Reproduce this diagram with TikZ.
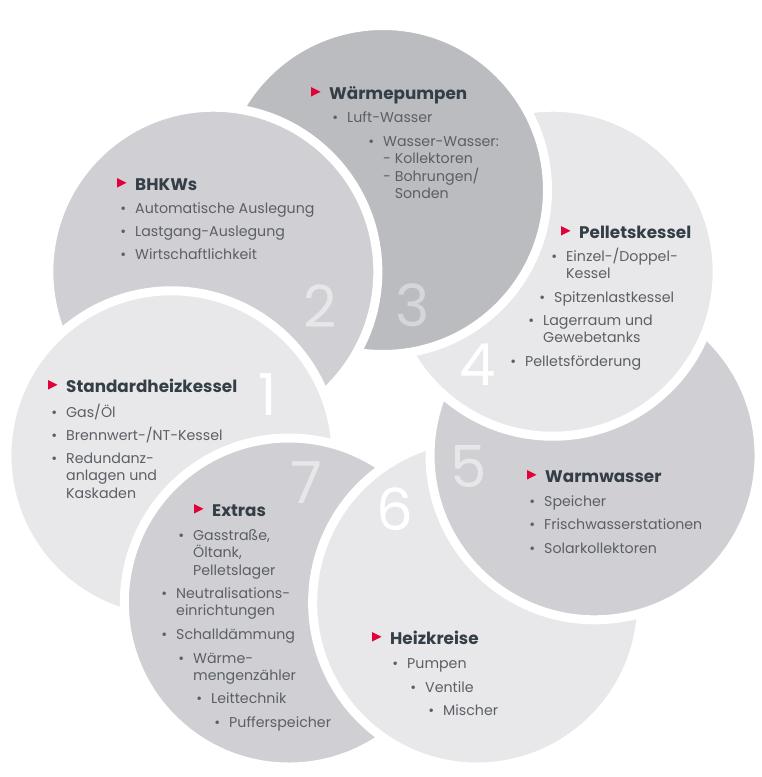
\documentclass[tikz,border=0pt]{standalone}
\usepackage{fontspec}
\setmainfont{Poppins}
\usetikzlibrary{calc}
\definecolor{discdark}{HTML}{BBBCC0}
\definecolor{discmid}{HTML}{D0D0D4}
\definecolor{disclight}{HTML}{E8E8EA}
\definecolor{headtext}{HTML}{343E47}
\definecolor{itemtext}{HTML}{5B5F66}
\definecolor{markred}{HTML}{E2003B}
\newcommand\bul{\llap{\textbullet\hspace{9pt}}}

\begin{document}
\begin{tikzpicture}[
  x=1pt, y=-1pt,
  disc/.style={draw=white, line width=9pt},
  head/.style={anchor=base west, inner sep=0pt, text=headtext,
               font=\fontsize{16.8}{20}\selectfont\bfseries},
  itm/.style={anchor=base west, inner sep=0pt, align=left, text=itemtext,
              font=\fontsize{14.2}{17.5}\selectfont},
  numeral/.style={anchor=base, inner sep=0pt, text=white,
                  font=\fontsize{58}{58}\selectfont},
  marker/.style={fill=markred}
]
  \useasboundingbox (0,0) rectangle (761,777);
  \coordinate (O) at (383,407);
  \foreach \ang/\col in {115.71/discmid, 64.29/disclight, 12.86/discmid,
                         -38.57/disclight, -90/discdark, -141.43/discmid,
                         -192.86/disclight}
    \draw[disc, fill=\col] (O) ++(\ang:217) circle[radius=164.5];
  \begin{scope}
    \clip ($(O)+(115.71:600)$) -- ($(O)+(115.71:600)+(205.71:600)$)
       -- ($(O)+(-64.29:600)+(205.71:600)$) -- ($(O)+(-64.29:600)$) -- cycle;
    \draw[disc, fill=discmid] (O) ++(115.71:217) circle[radius=164.5];
  \end{scope}

  \node[numeral, text opacity=1]   (n1) at (268,415) {1};
  \node[numeral, text opacity=0.5] (n2) at (320,327) {2};
  \node[numeral, text opacity=0.4] (n3) at (413,326) {3};
  \node[numeral, text opacity=1]   (n4) at (478,385) {4};
  \node[numeral, text opacity=0.5] (n5) at (469,487) {5};
  \node[numeral, text opacity=1]   (n6) at (395,530) {6};
  \node[numeral, text opacity=0.5] (n7) at (306,503) {7};

  \node[head] (h1) at (66,392) {Standardheizkessel};
  \node[itm] (i1a) at (66,417) {\bul Gas/Öl};
  \node[itm] (i1b) at (66,440) {\bul Brennwert-/NT-Kessel};
  \node[itm] (i1c) at (66,498) {\bul Redundanz-\\anlagen und\\Kaskaden};

  \node[head] (h2) at (135,190) {BHKWs};
  \node[itm] (i2a) at (135,213) {\bul Automatische Auslegung};
  \node[itm] (i2b) at (135,236) {\bul Lastgang-Auslegung};
  \node[itm] (i2c) at (135,259) {\bul Wirtschaftlichkeit};

  \node[head] (h3) at (329,99) {Wärmepumpen};
  \node[itm] (i3a) at (347,122) {\bul Luft-Wasser};
  \node[itm] (i3b) at (383,198.5) {\bul Wasser-Wasser:\\- Kollektoren\\- Bohrungen/\\\phantom{- }Sonden};

  \node[head] (h4) at (579,238) {Pelletskessel};
  \node[itm] (i4a) at (566,278.5) {\bul Einzel-/Doppel-\\Kessel};
  \node[itm] (i4b) at (554,302) {\bul Spitzenlastkessel};
  \node[itm] (i4c) at (543,342.5) {\bul Lagerraum und\\Gewebetanks};
  \node[itm] (i4d) at (525,366) {\bul Pelletsförderung};

  \node[head] (h5) at (545,482) {Warmwasser};
  \node[itm] (i5a) at (544,506) {\bul Speicher};
  \node[itm] (i5b) at (544,529) {\bul Frischwasserstationen};
  \node[itm] (i5c) at (544,553) {\bul Solarkollektoren};

  \node[head] (h6) at (390,644) {Heizkreise};
  \node[itm] (i6a) at (407,668) {\bul Pumpen};
  \node[itm] (i6b) at (425,692) {\bul Ventile};
  \node[itm] (i6c) at (443,715) {\bul Mischer};

  \node[head] (h7) at (212,516) {Extras};
  \node[itm] (i7a) at (193,575) {\bul Gasstraße,\\Öltank,\\Pelletslager};
  \node[itm] (i7b) at (176,615.5) {\bul Neutralisations-\\einrichtungen};
  \node[itm] (i7c) at (176,639) {\bul Schalldämmung};
  \node[itm] (i7d) at (193,680.5) {\bul Wärme-\\mengenzähler};
  \node[itm] (i7e) at (211,703) {\bul Leittechnik};
  \node[itm] (i7f) at (229,727) {\bul Pufferspeicher};

  \foreach \h in {h1,h2,h3,h4,h5,h6,h7}
    \fill[marker] ([shift={(-18,-2.5)}]\h.base west) -- ++(0,-9.5) -- ++(9.5,4.75) -- cycle;
\end{tikzpicture}
\end{document}
